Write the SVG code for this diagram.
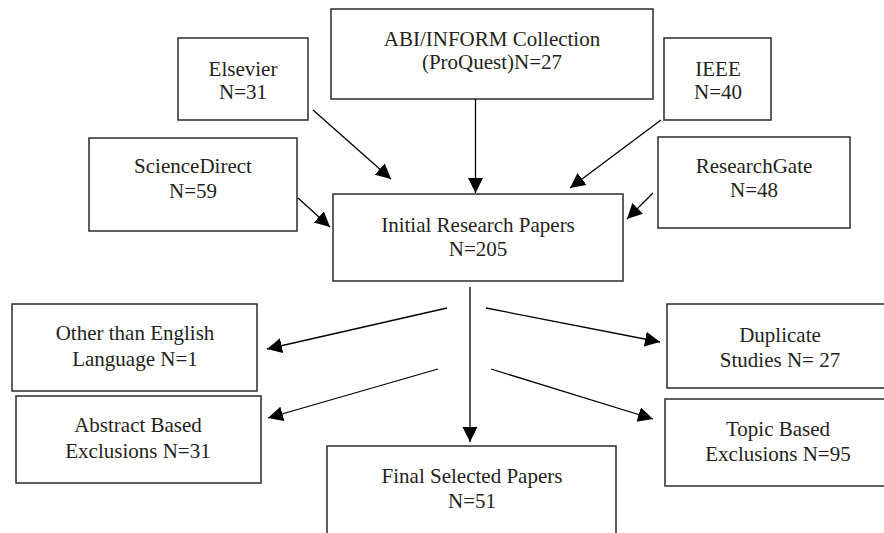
<svg xmlns="http://www.w3.org/2000/svg" width="884" height="533" viewBox="0 0 884 533">
<style>
.box{fill:#fff;stroke:#2b2b2b;stroke-width:1.5}
.t{font-family:'Liberation Serif','DejaVu Serif',serif;font-size:21px;fill:#231f20;text-anchor:middle}
.c{stroke:#000;stroke-width:1.3;fill:none;marker-end:url(#ah)}
</style>
<defs>
<marker id="ah" markerUnits="userSpaceOnUse" markerWidth="16" markerHeight="16" refX="15" refY="7.5" orient="auto">
<path d="M0,0 L15,7.5 L0,15 z" fill="#000"/>
</marker>
</defs>
<rect width="884" height="533" fill="#fff"/>
<g id="abi"><rect class="box" x="331" y="9" width="322" height="90"/><text class="t" font-family="Liberation Serif, serif" x="492" y="46">ABI/INFORM Collection</text><text class="t" font-family="Liberation Serif, serif" x="492" y="69">(ProQuest)N=27</text></g>
<g id="elsevier"><rect class="box" x="178" y="38" width="130" height="82"/><text class="t" x="243" y="76">Elsevier</text><text class="t" x="243" y="99">N=31</text></g>
<g id="ieee"><rect class="box" x="664" y="38" width="107" height="82"/><text class="t" x="718" y="76">IEEE</text><text class="t" x="718" y="99">N=40</text></g>
<g id="sciencedirect"><rect class="box" x="89" y="138" width="208" height="93"/><text class="t" x="193" y="173">ScienceDirect</text><text class="t" x="193" y="198">N=59</text></g>
<g id="researchgate"><rect class="box" x="658" y="137" width="192" height="91"/><text class="t" x="754" y="173">ResearchGate</text><text class="t" x="754" y="197">N=48</text></g>
<g id="initial"><rect class="box" x="333" y="194" width="290" height="87"/><text class="t" x="478" y="232">Initial Research Papers</text><text class="t" x="478" y="256">N=205</text></g>
<g id="other"><rect class="box" x="12" y="304" width="245" height="87"/><text class="t" x="135" y="340">Other than English</text><text class="t" x="135" y="366">Language N=1</text></g>
<g id="abstract"><rect class="box" x="16" y="396" width="245" height="87"/><text class="t" x="138" y="432">Abstract Based</text><text class="t" x="138" y="458">Exclusions N=31</text></g>
<g id="duplicate"><rect class="box" x="667" y="304" width="226" height="84"/><text class="t" x="780" y="342">Duplicate</text><text class="t" x="780" y="367">Studies N= 27</text></g>
<g id="topic"><rect class="box" x="665" y="399" width="226" height="87"/><text class="t" x="778" y="436">Topic Based</text><text class="t" x="778" y="461">Exclusions N=95</text></g>
<g id="final"><rect class="box" x="327" y="446" width="289" height="100"/><text class="t" x="472" y="483">Final Selected Papers</text><text class="t" x="472" y="508">N=51</text></g>
<g id="connectors">
<line class="c" x1="313" y1="110" x2="391" y2="179"/>
<line class="c" x1="475.5" y1="99" x2="475.5" y2="193"/>
<line class="c" x1="661" y1="120" x2="570" y2="188"/>
<line class="c" x1="298" y1="198" x2="330" y2="227"/>
<line class="c" x1="653" y1="193" x2="627" y2="219"/>
<line class="c" x1="470" y1="287" x2="470" y2="442"/>
<line class="c" x1="447" y1="308" x2="267" y2="349"/>
<line class="c" x1="438" y1="369" x2="268" y2="418"/>
<line class="c" x1="486" y1="308" x2="660" y2="342"/>
<line class="c" x1="491" y1="369" x2="653" y2="419"/>
</g>
</svg>
